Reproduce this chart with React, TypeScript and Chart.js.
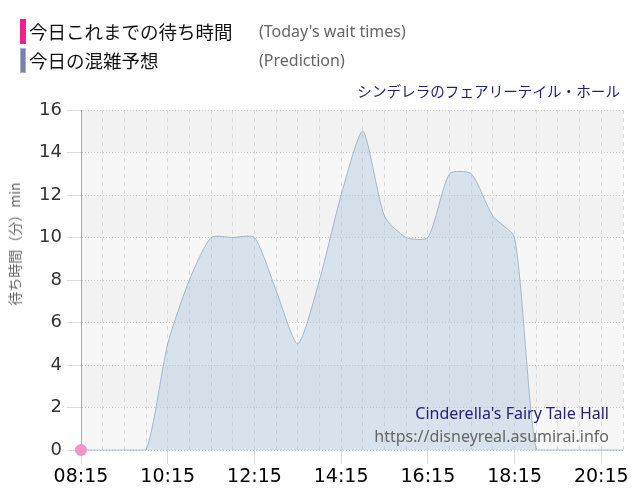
import React, { useEffect, useRef } from 'react';
import { Chart, registerables } from 'chart.js';

Chart.register(...registerables);

const timeLabels = [
  '08:15', '08:45', '09:15', '09:45', '10:15', '10:45', '11:15', '11:45', '12:15',
  '12:45', '13:15', '13:45', '14:15', '14:45', '15:15', '15:45', '16:15', '16:45',
  '17:15', '17:45', '18:15', '18:45', '19:15', '19:45', '20:15', '20:45',
];
const predictionValues = [
  0, 0, 0, 0, 5, 8, 10, 10, 10, 7.5, 5, 8, 12, 15, 11, 10, 10, 13, 13, 11, 10, 0, 0, 0, 0, 0,
];
const todayWaitValues: (number | null)[] = [
  0, null, null, null, null, null, null, null, null, null, null, null, null,
  null, null, null, null, null, null, null, null, null, null, null, null, null,
];
const shownTickLabels = ['08:15', '10:15', '12:15', '14:15', '16:15', '18:15', '20:15'];
const yMin = 0;
const yMax = 16;
const yStep = 2;

const legendItems = [
  { ja: '今日これまでの待ち時間', en: "(Today's wait times)" },
  { ja: '今日の混雑予想', en: '(Prediction)' },
];
const attractionJa = 'シンデレラのフェアリーテイル・ホール';
const attractionEn = "Cinderella's Fairy Tale Hall";
const siteUrl = 'https://disneyreal.asumirai.info';
const yTitle = '待ち時間（分）min';

const bandPlugin = {
  id: 'bands',
  beforeDraw(chart: any) {
    const { ctx, chartArea: a, scales } = chart;
    const y = scales.y;
    ctx.save();
    ctx.fillStyle = '#f2f2f2';
    ctx.fillRect(a.left, a.top, a.right - a.left, a.bottom - a.top);
    ctx.fillStyle = '#f7f7f7';
    for (let v = yMin; v < yMax; v += yStep * 2) {
      const y1 = y.getPixelForValue(v + yStep);
      const y2 = y.getPixelForValue(v);
      ctx.fillRect(a.left, y1, a.right - a.left, y2 - y1);
    }
    ctx.restore();
  },
};

const jaFont = '"Noto Sans CJK JP", "Noto Sans", sans-serif';
const enFont = '"Noto Sans", "DejaVu Sans", sans-serif';

export default function App() {
  const canvasRef = useRef<HTMLCanvasElement | null>(null);

  useEffect(() => {
    if (!canvasRef.current) return;
    const chart = new Chart(canvasRef.current, {
      type: 'line',
      data: {
        labels: timeLabels,
        datasets: [
          {
            label: 'today',
            data: todayWaitValues,
            showLine: false,
            pointRadius: 6,
            pointHoverRadius: 6,
            pointBackgroundColor: '#f594c9',
            pointBorderWidth: 0,
            borderColor: '#f594c9',
            clip: false as any,
            order: 0,
          },
          {
            label: 'prediction',
            data: predictionValues,
            fill: 'origin',
            backgroundColor: 'rgba(172,198,222,0.42)',
            borderColor: 'rgba(140,165,192,0.75)',
            borderWidth: 1,
            pointRadius: 0,
            tension: 0.22,
            clip: false as any,
            order: 1,
          },
        ],
      },
      options: {
        animation: false,
        responsive: false,
        devicePixelRatio: 1,
        layout: { padding: { top: 110, right: 17, left: 0, bottom: 0 } },
        plugins: {
          legend: { display: false },
          tooltip: { enabled: false },
        },
        scales: {
          x: {
            type: 'category',
            offset: false,
            afterFit(scale: any) {
              scale.height = 50;
            },
            grid: {
              color: '#d8d8d8',
              lineWidth: 1,
              tickLength: 14,
              tickColor: (c: any) =>
                shownTickLabels.includes(timeLabels[c.index]) ? '#d8d8d8' : 'rgba(0,0,0,0)',
            },
            border: { display: false, dash: [4, 4] },
            ticks: {
              autoSkip: false,
              maxRotation: 0,
              minRotation: 0,
              padding: 2,
              color: '#000',
              font: { family: '"DejaVu Sans"', size: 19 },
              callback: (_v: any, i: number) =>
                shownTickLabels.includes(timeLabels[i]) ? timeLabels[i] : '',
            },
          },
          y: {
            min: yMin,
            max: yMax,
            afterFit(scale: any) {
              scale.width = 81;
            },
            grid: {
              color: '#c8c8c8',
              tickLength: 14,
              tickColor: '#dcdcdc',
            },
            border: { display: true, color: '#a8a8a8', width: 1, dash: [1, 2] },
            ticks: {
              stepSize: yStep,
              padding: 5,
              color: '#333',
              font: { family: '"DejaVu Sans"', size: 18 },
            },
            title: { display: false },
          },
        },
      },
      plugins: [bandPlugin],
    });
    return () => chart.destroy();
  }, []);

  const legendBar = (i: number) =>
    i === 0
      ? { background: '#f0208f' }
      : { background: '#7682a8', boxShadow: 'inset 0 0 0 1px #a9b2cc' };

  return (
    <div style={{ position: 'absolute', left: 0, top: 0, width: 640, height: 500, background: '#fff' }}>
      <canvas ref={canvasRef} width={640} height={500} style={{ position: 'absolute', left: 0, top: 0 }} />
      <div
        style={{
          position: 'absolute',
          left: 14,
          top: 244,
          transform: 'translate(-50%, -50%) rotate(-90deg)',
          fontFamily: jaFont,
          fontSize: 14,
          lineHeight: '18px',
          color: '#666',
          whiteSpace: 'nowrap',
        }}
      >
        {yTitle}
      </div>
      {legendItems.map((it, i) => (
        <div key={i} style={{ position: 'absolute', left: 0, top: 19 + i * 29, height: 25, width: 640 }}>
          <div style={{ position: 'absolute', left: 20, top: 0, width: 6, height: 25, ...legendBar(i) }} />
          <div
            style={{
              position: 'absolute',
              left: 29,
              top: 0,
              lineHeight: '25px',
              fontFamily: jaFont,
              fontSize: 18.5,
              color: '#111',
              whiteSpace: 'nowrap',
            }}
          >
            {it.ja}
          </div>
          <div
            style={{
              position: 'absolute',
              left: 259,
              top: 0,
              lineHeight: '25px',
              fontFamily: enFont,
              fontSize: 16,
              color: '#666',
              whiteSpace: 'nowrap',
            }}
          >
            {it.en}
          </div>
        </div>
      ))}
      <div
        style={{
          position: 'absolute',
          right: 20,
          top: 80,
          lineHeight: '22px',
          fontFamily: jaFont,
          fontSize: 14.6,
          color: '#22227a',
          whiteSpace: 'nowrap',
        }}
      >
        {attractionJa}
      </div>
      <div
        style={{
          position: 'absolute',
          right: 31,
          top: 402,
          lineHeight: '22px',
          fontFamily: enFont,
          fontSize: 16,
          color: '#22227a',
          whiteSpace: 'nowrap',
          textAlign: 'right',
        }}
      >
        {attractionEn}
      </div>
      <div
        style={{
          position: 'absolute',
          right: 31,
          top: 425,
          lineHeight: '22px',
          fontFamily: enFont,
          fontSize: 16,
          color: '#666',
          whiteSpace: 'nowrap',
          textAlign: 'right',
        }}
      >
        {siteUrl}
      </div>
    </div>
  );
}
